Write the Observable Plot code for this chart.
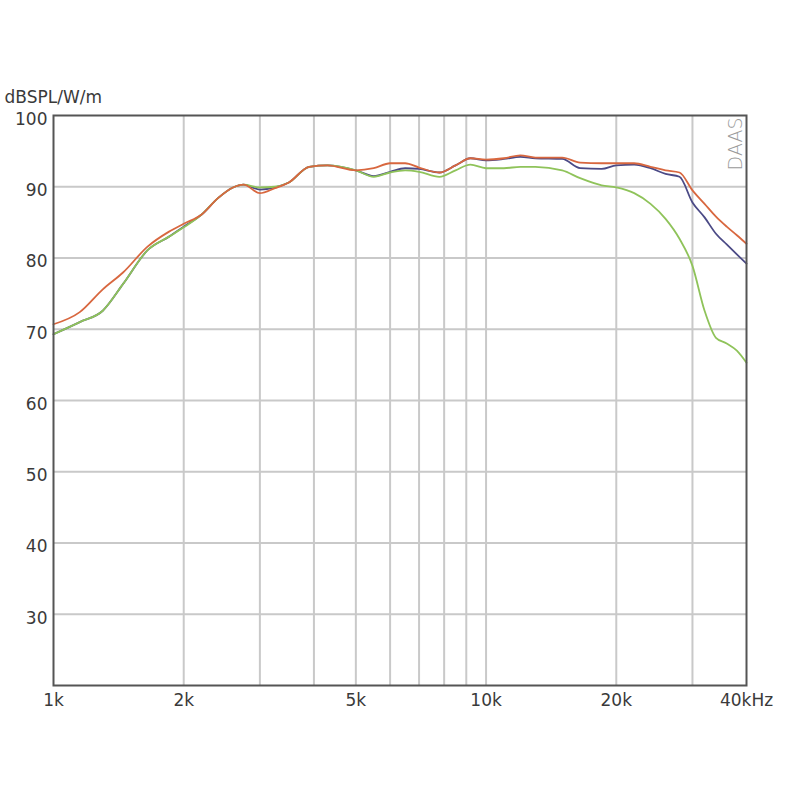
<!DOCTYPE html>
<html>
<head>
<meta charset="utf-8">
<script src="https://cdn.jsdelivr.net/npm/d3@7"></script>
<script src="https://cdn.jsdelivr.net/npm/@observablehq/plot@0.6"></script>
<style>
  html, body { margin: 0; padding: 0; background: #fff; }
  #chart svg { display: block; }
</style>
</head>
<body>
<div id="chart"></div>
<script>
const freqHz = [1000, 1150, 1300, 1450, 1650, 1850, 2000, 2200, 2400, 2600, 2750, 3000, 3250, 3500, 3900, 4300, 5000, 5500, 6000, 6500, 7000, 7800, 8500, 9200, 10000, 11000, 12000, 13000, 15000, 16500, 18500, 20000, 22000, 24000, 26000, 28000, 30000, 32000, 34000, 36000, 38000, 40000];
const redDb   = [70.7, 72.4, 75.6, 78.0, 81.6, 83.7, 84.8, 86.1, 88.4, 89.9, 90.3, 89.1, 89.8, 90.6, 92.8, 93.0, 92.3, 92.6, 93.3, 93.3, 92.7, 92.0, 93.0, 94.0, 93.8, 94.0, 94.4, 94.1, 94.1, 93.4, 93.3, 93.3, 93.3, 92.8, 92.3, 92.0, 89.5, 87.6, 85.8, 84.4, 83.2, 82.0];
const blueDb  = [69.3, 71.0, 72.6, 76.4, 81.1, 83.0, 84.4, 86.1, 88.4, 89.9, 90.3, 89.6, 89.9, 90.6, 92.8, 93.0, 92.3, 91.5, 92.1, 92.6, 92.5, 92.0, 93.0, 94.0, 93.7, 93.9, 94.2, 94.0, 93.9, 92.6, 92.5, 93.0, 93.1, 92.6, 91.8, 91.4, 87.8, 85.7, 83.4, 81.9, 80.5, 79.2];
const greenDb = [69.3, 71.0, 72.6, 76.4, 81.1, 83.0, 84.3, 86.1, 88.4, 89.9, 90.3, 89.9, 90.0, 90.6, 92.8, 93.0, 92.3, 91.4, 92.0, 92.3, 92.1, 91.4, 92.3, 93.1, 92.6, 92.6, 92.8, 92.8, 92.3, 91.2, 90.2, 89.9, 89.1, 87.6, 85.5, 82.7, 78.9, 72.6, 68.8, 68.0, 67.0, 65.3];

const xTickValues = [1000, 2000, 5000, 10000, 20000, 40000];
const xTickLabels = ["1k", "2k", "5k", "10k", "20k", "40kHz"];
const yTickValues = [30, 40, 50, 60, 70, 80, 90, 100];
const xGridValues = [2000, 3000, 4000, 5000, 6000, 7000, 8000, 9000, 10000, 20000, 30000];
const yGridValues = [30, 40, 50, 60, 70, 80, 90];
const yUnitLabel = "dBSPL/W/m";
const watermark = "DAAS";

const series = [
  {name: "curve B", values: blueDb, color: "#4b4a86"},
  {name: "curve C", values: greenDb, color: "#8fc35a"},
  {name: "curve A", values: redDb, color: "#d8673f"}
];
const rows = series.flatMap(s => freqHz.map((f, i) => ({f, db: s.values[i], name: s.name})));
const labelOf = new Map(xTickValues.map((v, i) => [v, xTickLabels[i]]));

const font = "'DejaVu Sans', sans-serif";

const chart = Plot.plot({
  width: 800,
  height: 800,
  marginLeft: 53,
  marginRight: 54,
  marginTop: 115,
  marginBottom: 115,
  style: {fontFamily: font, fontSize: "16px", color: "#3a3a3a", background: "#fff"},
  x: {type: "log", domain: [1000, 40000]},
  y: {domain: [20, 100]},
  color: {type: "ordinal", domain: series.map(s => s.name), range: series.map(s => s.color)},
  marks: [
    Plot.gridX(xGridValues, {stroke: "#c9c9c9", strokeOpacity: 1, strokeWidth: 2}),
    Plot.gridY(yGridValues, {stroke: "#c9c9c9", strokeOpacity: 1, strokeWidth: 2}),
    Plot.axisX(xTickValues, {tickSize: 0, tickPadding: 8, tickFormat: d => labelOf.get(d), fontSize: 17, label: null}),
    Plot.axisY(yTickValues, {tickSize: 0, tickPadding: 6, dy: 4, fontSize: 17, label: null}),
    Plot.line(rows, {x: "f", y: "db", z: "name", stroke: "name", strokeWidth: 1.8, curve: "monotone-x"}),
    Plot.frame({stroke: "#555", strokeWidth: 2}),
    Plot.text([yUnitLabel], {frameAnchor: "top-left", dx: -49, dy: -13, textAnchor: "start", lineAnchor: "bottom", fontSize: 17, fill: "#3a3a3a"}),
    Plot.text([watermark], {frameAnchor: "top-right", dx: -11, dy: 2, rotate: -90, textAnchor: "end", lineAnchor: "middle", fontSize: 19, fill: "#9a9a9a", fontWeight: 300})
  ]
});
document.getElementById("chart").appendChild(chart);
</script>
</body>
</html>
